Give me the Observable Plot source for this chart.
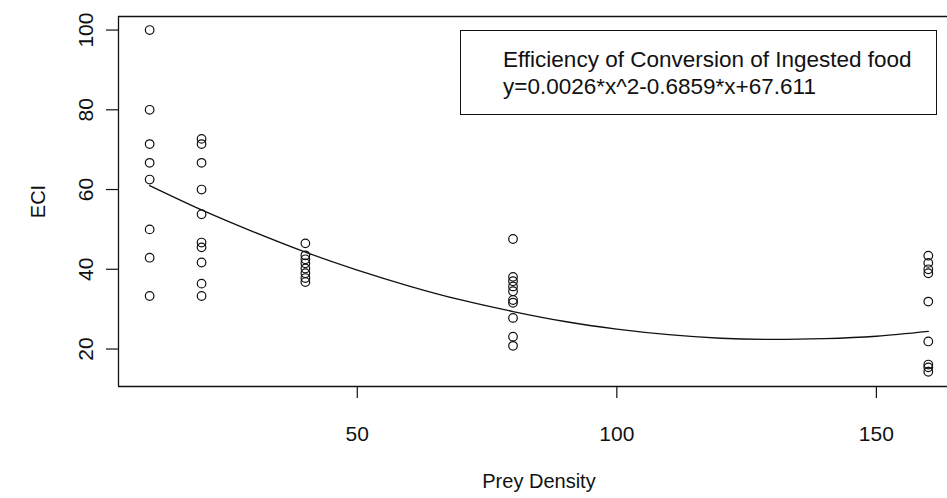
<!DOCTYPE html>
<html>
<head>
<meta charset="utf-8">
<script src="https://cdn.jsdelivr.net/npm/d3@7"></script>
<script src="https://cdn.jsdelivr.net/npm/@observablehq/plot@0.6"></script>
<style>
  html, body { margin: 0; padding: 0; background: #fff; }
  #wrap { position: relative; width: 947px; height: 498px; overflow: hidden; font-family: "Liberation Sans", Arial, sans-serif; }
  #legend { position: absolute; left: 460px; top: 30px; width: 477px; height: 85px; border: 1px solid #111; box-sizing: border-box; background: #fff; }
  #legend div { position: absolute; left: 42px; font-size: 22.5px; color: #111; white-space: nowrap; line-height: 1; }
</style>
</head>
<body>
<div id="wrap">
  <div id="chart"></div>
  <div id="legend">
    <div id="l1" style="top: 18px;">Efficiency of Conversion of Ingested food</div>
    <div id="l2" style="top: 45px;">y=0.0026*x^2-0.6859*x+67.611</div>
  </div>
</div>
<script>
// Prey density groups and observed ECI values
const density10 = [100, 80, 71.4, 66.7, 62.5, 50, 42.9, 33.3];
const density20 = [72.7, 71.4, 66.7, 60, 53.8, 46.7, 45.5, 41.7, 36.4, 33.3];
const density40 = [46.5, 43.5, 42.5, 41.5, 40.2, 39, 37.8, 36.8];
const density80 = [47.6, 38.1, 37.0, 35.7, 34.5, 32.3, 31.6, 27.8, 23.1, 20.8];
const density160 = [43.4, 41.6, 40, 39, 31.9, 21.9, 16.1, 15.4, 14.3];

// Fitted curve
const curveX = [10, 20, 30, 40, 50, 60, 70, 80, 90, 100, 110, 120, 130, 140, 150, 160];
const curveY = [61.0, 54.9, 49.4, 44.3, 39.8, 35.8, 32.3, 29.4, 26.9, 25.0, 23.6, 22.7, 22.4, 22.6, 23.2, 24.4];

const xTicks = [50, 100, 150];
const yTicks = [20, 40, 60, 80, 100];
const xDomain = [4, 163.7];
const yDomain = [10.6, 103.4];

const points = [
  ...density10.map(v => ({x: 10, y: v})),
  ...density20.map(v => ({x: 20, y: v})),
  ...density40.map(v => ({x: 40, y: v})),
  ...density80.map(v => ({x: 80, y: v})),
  ...density160.map(v => ({x: 160, y: v}))
];
const curve = curveX.map((x, i) => ({x, y: curveY[i]}));

const W = 947, H = 498, mL = 118, mR = 0, mT = 16, mB = 112;
const tickLen = 12;
// tick length converted to data units so that the ticks go through the scales
const tickDX = tickLen * (xDomain[1] - xDomain[0]) / (W - mL - mR);
const tickDY = tickLen * (yDomain[1] - yDomain[0]) / (H - mT - mB);

const ink = "#111";
const chart = Plot.plot({
  width: W,
  height: H,
  marginLeft: mL,
  marginRight: mR,
  marginTop: mT,
  marginBottom: mB,
  style: {fontFamily: "Liberation Sans, Arial, sans-serif", background: "#fff", color: ink},
  x: {domain: xDomain, axis: null},
  y: {domain: yDomain, axis: null},
  marks: [
    Plot.ruleY(yDomain, {stroke: ink, strokeWidth: 1.3}),
    Plot.ruleX([xDomain[0]], {stroke: ink, strokeWidth: 1.3}),
    Plot.ruleY(yTicks, {y: d => d, x1: xDomain[0], x2: xDomain[0] - tickDX, stroke: ink, strokeWidth: 1.2}),
    Plot.ruleX(xTicks, {x: d => d, y1: yDomain[0], y2: yDomain[0] - tickDY, stroke: ink, strokeWidth: 1.2}),
    Plot.text(yTicks, {y: d => d, text: d => String(d), frameAnchor: "left", textAnchor: "middle", dx: -32, rotate: -90, fontSize: 21, fill: ink}),
    Plot.text(xTicks, {x: d => d, text: d => String(d), frameAnchor: "bottom", dy: 54, fontSize: 21, fill: ink}),
    Plot.text(["Prey Density"], {x: () => 85, frameAnchor: "bottom", dy: 101, fontSize: 20, fill: ink}),
    Plot.text(["ECI"], {y: () => (yDomain[0] + yDomain[1]) / 2, frameAnchor: "left", textAnchor: "middle", dx: -80, rotate: -90, fontSize: 20, fill: ink}),
    Plot.line(curve, {x: "x", y: "y", curve: "natural", stroke: ink, strokeWidth: 1.3}),
    Plot.dot(points, {x: "x", y: "y", r: 4.3, stroke: ink, strokeWidth: 1.2, fill: "none"})
  ]
});
document.getElementById("chart").appendChild(chart);
</script>
</body>
</html>
